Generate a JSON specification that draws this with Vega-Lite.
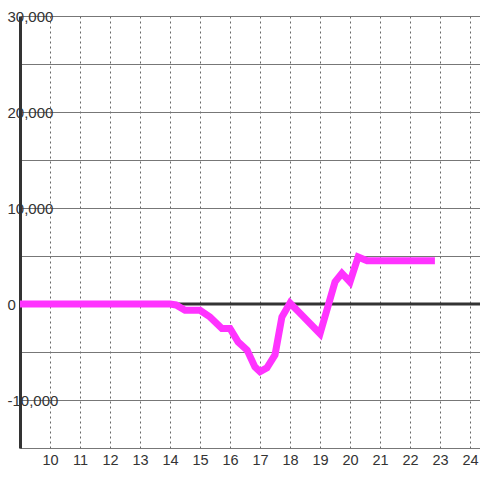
{
  "$schema": "https://vega.github.io/schema/vega-lite/v6.json",
  "autosize": "none",
  "width": 460,
  "height": 432,
  "padding": {"left": 20, "top": 16, "right": 0, "bottom": 32},
  "background": "white",
  "config": {
    "view": {"stroke": null}
  },
  "layer": [
    {
      "data": {"values": [{"y": 0}]},
      "mark": {"type": "rule", "color": "#333", "strokeWidth": 3},
      "encoding": {"y": {"field": "y", "type": "quantitative", "scale": {"domain": [-15000, 30000], "nice": false}}}
    },
    {
      "data": {"values": [
        {"x": 9.0, "y": 0}, {"x": 14.0, "y": 0}, {"x": 14.2, "y": -100}, {"x": 14.5, "y": -650},
        {"x": 15.0, "y": -650}, {"x": 15.33, "y": -1350}, {"x": 15.73, "y": -2550}, {"x": 16.0, "y": -2550},
        {"x": 16.27, "y": -3950}, {"x": 16.57, "y": -4800}, {"x": 16.83, "y": -6550}, {"x": 17.0, "y": -7050},
        {"x": 17.23, "y": -6650}, {"x": 17.5, "y": -5300}, {"x": 17.73, "y": -1350}, {"x": 18.0, "y": 100},
        {"x": 18.33, "y": -950}, {"x": 19.0, "y": -3100}, {"x": 19.5, "y": 2300}, {"x": 19.73, "y": 3200},
        {"x": 20.0, "y": 2300}, {"x": 20.27, "y": 4900}, {"x": 20.57, "y": 4500}, {"x": 22.83, "y": 4500}
      ]},
      "mark": {"type": "line", "color": "#ff33ff", "strokeWidth": 7},
      "encoding": {
        "x": {"field": "x", "type": "quantitative",
          "scale": {"domain": [9, 24.333], "nice": false, "zero": false},
          "axis": {"title": null, "values": [10,11,12,13,14,15,16,17,18,19,20,21,22,23,24],
            "ticks": false, "tickSize": 0,
            "labelFont": "Liberation Sans", "labelFontSize": 14.5, "labelColor": "#333",
            "grid": true, "gridColor": "#666", "gridDash": [2, 3], "gridWidth": 1,
            "domainColor": "#777", "domainWidth": 1, "labelPadding": 5, "labelFlush": false}},
        "y": {"field": "y", "type": "quantitative",
          "scale": {"domain": [-15000, 30000], "nice": false},
          "axis": {"title": null, "values": [-15000,-10000,-5000,0,5000,10000,15000,20000,25000,30000],
            "ticks": false, "tickSize": 0,
            "labelFont": "Liberation Sans", "labelFontSize": 15, "labelColor": "#333",
            "labelExpr": "datum.value % 10000 === 0 && datum.value > -15000 ? replace(format(datum.value, ','), '\u2212', '-') : ''",
            "grid": true, "gridColor": "#777", "gridWidth": 1,
            "domainColor": "#333", "domainWidth": 3, "labelAlign": "left", "labelPadding": 13, "labelFlush": false}}
      }
    }
  ]
}
